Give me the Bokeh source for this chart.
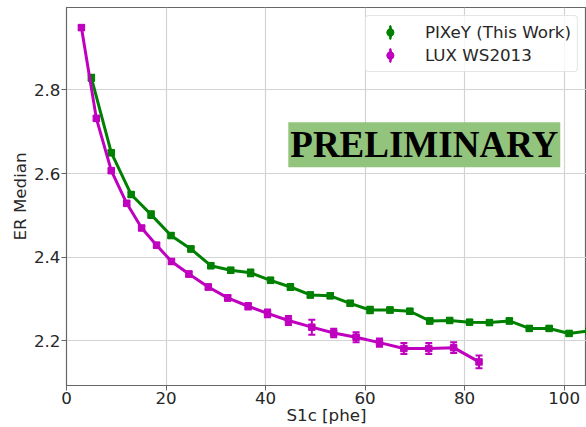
import numpy as np
from bokeh.plotting import figure
from bokeh.models import (ColumnDataSource, Range1d, Whisker, TeeHead, Legend,
                          LegendItem, Label, FixedTicker)
from bokeh.embed import file_html
from bokeh.resources import INLINE

# PIXeY (This Work)
pixey_x = [5, 9, 13, 17, 21, 25, 29, 33, 37, 41, 45, 49, 53, 57, 61, 65, 69,
           73, 77, 81, 85, 89, 93, 97, 101, 105]
pixey_y = [2.829, 2.650, 2.550, 2.502, 2.452, 2.420, 2.380, 2.369, 2.363,
           2.345, 2.329, 2.310, 2.308, 2.290, 2.274, 2.274, 2.271, 2.248,
           2.249, 2.245, 2.244, 2.248, 2.230, 2.230, 2.218, 2.224]
pixey_err = [0.007, 0.006, 0.006, 0.008, 0.006, 0.006, 0.006, 0.006, 0.008,
             0.006, 0.007, 0.006, 0.006, 0.006, 0.008, 0.006, 0.006, 0.006,
             0.005, 0.005, 0.005, 0.006, 0.005, 0.005, 0.005, 0.005]

# LUX WS2013
lux_x = [3.0, 6.0, 9.0, 12.1, 15.1, 18.1, 21.1, 24.6, 28.5, 32.4, 36.5, 40.4,
         44.6, 49.3, 53.7, 58.2, 62.9, 67.8, 72.8, 77.8, 82.9]
lux_y = [2.949, 2.732, 2.607, 2.529, 2.470, 2.429, 2.390, 2.360, 2.329,
         2.303, 2.283, 2.266, 2.249, 2.233, 2.219, 2.209, 2.196, 2.182,
         2.182, 2.184, 2.150]
lux_err = [0.005, 0.005, 0.005, 0.005, 0.005, 0.006, 0.006, 0.006, 0.006,
           0.007, 0.008, 0.009, 0.011, 0.018, 0.010, 0.012, 0.010, 0.013,
           0.013, 0.013, 0.015]

x_ticks = [0, 20, 40, 60, 80, 100]
y_ticks = [2.2, 2.4, 2.6, 2.8]

GREEN = "#008000"
MAGENTA = "#bf00bf"
TEXT = "#262626"
FONT_SIZE = "16.7px"

p = figure(width=586, height=427, output_backend="svg", toolbar_location=None,
           x_range=Range1d(0, 104.5), y_range=Range1d(2.0936, 2.997))
p.min_border = 0
p.min_border_left = 66
p.min_border_right = 0
p.min_border_top = 7
p.min_border_bottom = 0

p.outline_line_color = "#666666"
p.outline_line_width = 1.2
p.background_fill_color = "white"
p.border_fill_color = "white"

for ax in (p.xaxis[0], p.yaxis[0]):
    ax.axis_line_color = "#666666"
    ax.major_tick_line_color = "#666666"
    ax.minor_tick_line_color = None
    ax.major_tick_out = 5
    ax.major_tick_in = 0
    ax.major_label_text_font = "DejaVu Sans"
    ax.major_label_text_font_size = FONT_SIZE
    ax.major_label_text_color = TEXT
    ax.major_label_text_line_height = 1.0
    ax.axis_label_text_font = "DejaVu Sans"
    ax.axis_label_text_font_size = FONT_SIZE
    ax.axis_label_text_font_style = "normal"
    ax.axis_label_text_color = TEXT
    ax.axis_label_text_line_height = 1.0

p.xaxis.ticker = FixedTicker(ticks=x_ticks)
p.yaxis.ticker = FixedTicker(ticks=y_ticks)
p.xaxis.major_label_standoff = 1
p.xaxis.axis_label_standoff = -2
p.yaxis.major_label_standoff = 1
p.yaxis.axis_label_standoff = 1
p.xaxis.axis_label = "S1c [phe]"
p.yaxis.axis_label = "ER Median"

p.xgrid.grid_line_color = "#d3d3d3"
p.ygrid.grid_line_color = "#d3d3d3"
p.xgrid.grid_line_width = 1.2
p.ygrid.grid_line_width = 1.2

def series(xs, ys, es, color):
    src = ColumnDataSource(dict(x=xs, y=ys,
                                lo=[a - b for a, b in zip(ys, es)],
                                hi=[a + b for a, b in zip(ys, es)]))
    p.line("x", "y", source=src, line_color=color, line_width=3)
    p.scatter("x", "y", source=src, marker="square", size=6.5,
              fill_color=color, line_color=color, line_width=1)
    w = Whisker(source=src, base="x", lower="lo", upper="hi",
                line_color=color, line_width=2,
                upper_head=TeeHead(size=7, line_color=color, line_width=2),
                lower_head=TeeHead(size=7, line_color=color, line_width=2))
    p.add_layout(w)
    # legend glyphs (error-bar style), never drawn in the plot area
    dummy = ColumnDataSource(dict(x=[np.nan], y=[np.nan]))
    bar = p.ellipse("x", "y", source=dummy, width=2.5, height=14,
                    width_units="screen", height_units="screen",
                    fill_color=color, line_color=color, line_width=1)
    dot = p.scatter("x", "y", source=dummy, marker="circle",
                    fill_color=color, line_color=color, line_width=1)
    return [bar, dot]

g1 = series(pixey_x, pixey_y, pixey_err, GREEN)
g2 = series(lux_x, lux_y, lux_err, MAGENTA)

legend = Legend(items=[LegendItem(label="PIXeY (This Work)", renderers=g1),
                       LegendItem(label="LUX WS2013", renderers=g2)],
                location="top_right")
legend.margin = 8
legend.padding = 6
legend.spacing = 3
legend.glyph_width = 36
legend.glyph_height = 18
legend.label_height = 18
legend.label_standoff = 17
legend.label_text_font = "DejaVu Sans"
legend.label_text_font_size = FONT_SIZE
legend.label_text_color = TEXT
legend.border_line_color = "#cccccc"
legend.border_line_width = 1
legend.border_radius = 4
legend.background_fill_alpha = 0.8
p.add_layout(legend)

prelim = Label(x=71.9, y=2.669, text="PRELIMINARY", text_align="center",
               text_baseline="middle", text_font="Liberation Serif",
               text_font_style="bold", text_font_size="37px",
               text_color="black", background_fill_color="#93c47d",
               padding=2)
p.add_layout(prelim)

open("out.html", "w").write(file_html(p, INLINE))
